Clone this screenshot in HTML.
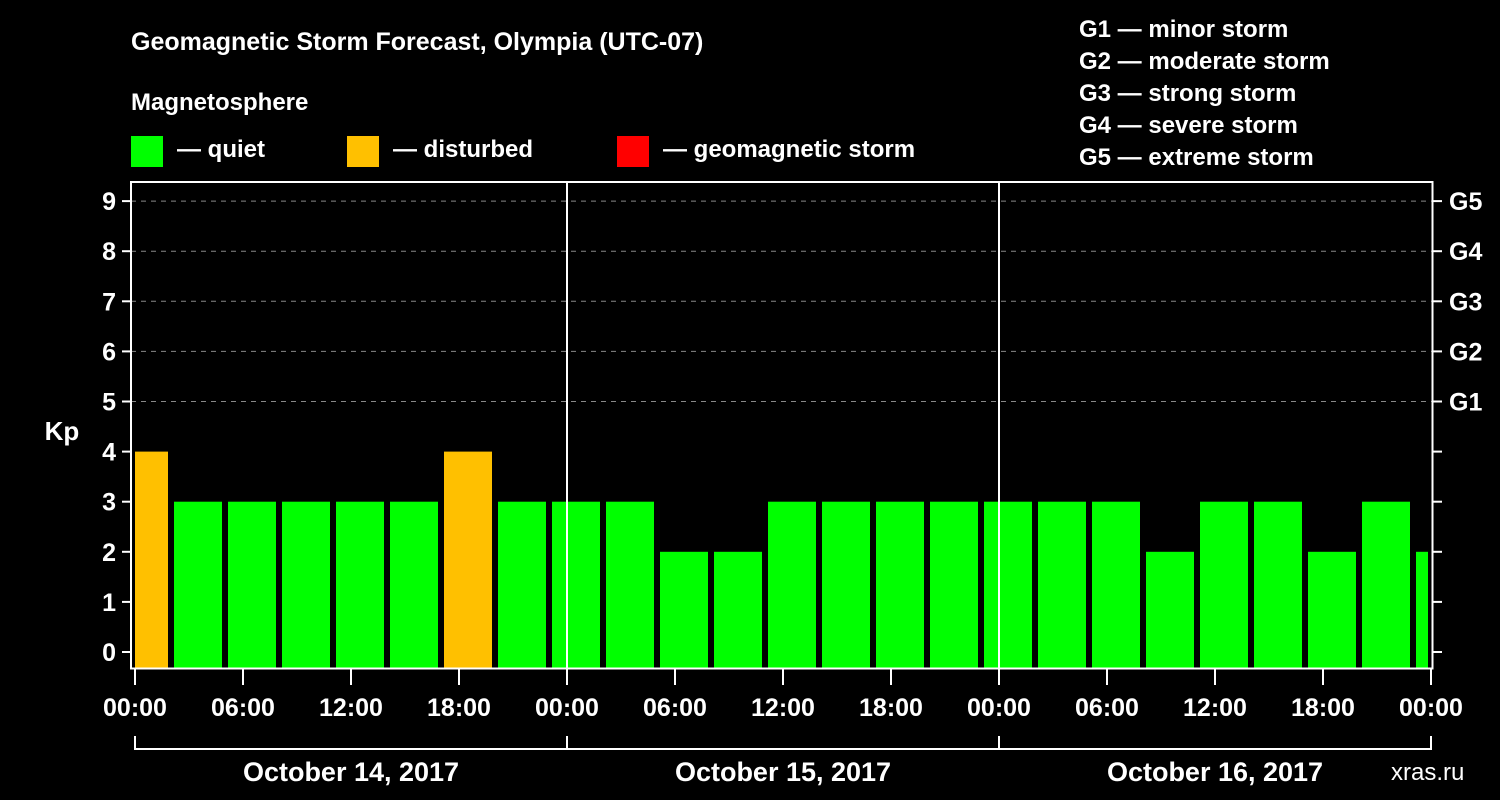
<!DOCTYPE html>
<html><head><meta charset="utf-8"><style>
html,body{margin:0;padding:0;background:#000;}
svg{display:block;font-family:"Liberation Sans",Arial,sans-serif;font-weight:bold;}
</style></head><body>
<svg id="chart" width="1500" height="800" viewBox="0 0 1500 800">
<rect width="1500" height="800" fill="#000"/>
<text x="131" y="50" fill="#fff" font-size="25">Geomagnetic Storm Forecast, Olympia (UTC-07)</text>
<text x="131" y="110" fill="#fff" font-size="24">Magnetosphere</text>
<g><rect x="131" y="136" width="32" height="31" fill="#00ff00"/><text x="177" y="157" fill="#fff" font-size="24">— quiet</text></g>
<g><rect x="347" y="136" width="32" height="31" fill="#ffc000"/><text x="393" y="157" fill="#fff" font-size="24">— disturbed</text></g>
<g><rect x="617" y="136" width="32" height="31" fill="#ff0000"/><text x="663" y="157" fill="#fff" font-size="24">— geomagnetic storm</text></g>
<g fill="#fff" font-size="24">
<text x="1079" y="37">G1 — minor storm</text>
<text x="1079" y="69">G2 — moderate storm</text>
<text x="1079" y="101">G3 — strong storm</text>
<text x="1079" y="133">G4 — severe storm</text>
<text x="1079" y="165">G5 — extreme storm</text>
</g>
<text x="62" y="440" fill="#fff" font-size="26" text-anchor="middle">Kp</text>
<text x="1391" y="780" fill="#fff" font-size="24" font-weight="normal">xras.ru</text>
<g id="plot"></g>
</svg>
<script>
const kpValues=[4,3,3,3,3,3,4,3,3,3,2,2,3,3,3,3,3,3,3,2,3,3,2,3,2];
const barStartHours=[-1,2,5,8,11,14,17,20,23,26,29,32,35,38,41,44,47,50,53,56,59,62,65,68,71];
const yTicks=[0,1,2,3,4,5,6,7,8,9];
const gLabels=["G1","G2","G3","G4","G5"];
const dayLabels=["October 14, 2017","October 15, 2017","October 16, 2017"];
const hourLabels=["00:00","06:00","12:00","18:00"];
const NS="http://www.w3.org/2000/svg";
const plot=document.getElementById('plot');
const X0=135,PXH=18,Y0=652,PXK=50.1;
const xs=h=>X0+h*PXH, ys=k=>Y0-k*PXK;
const FL=131,FR=1432.5,FT=182,FB=668.5;
function mk(t,a,parent){const e=document.createElementNS(NS,t);for(const k in a)e.setAttribute(k,a[k]);(parent||plot).appendChild(e);return e;}
// grid
for(let k=5;k<=9;k++){const l=mk('line',{x1:FL,x2:FR,y1:ys(k),y2:ys(k),stroke:'#888','stroke-dasharray':'5,5','stroke-width':1});

}
// bars
kpValues.forEach((v,i)=>{let x1=Math.max(xs(barStartHours[i])+3,X0);let x2=Math.min(xs(barStartHours[i]+3)-3,xs(72)-3);
const r=mk('rect',{x:x1,y:ys(v),width:x2-x1,height:FB-1-ys(v),fill:v>=5?'#ff0000':(v>=4?'#ffc000':'#00ff00')});

});
// frame
const fr=mk('rect',{x:FL,y:FT,width:FR-FL,height:FB-FT,fill:'none',stroke:'#fff','stroke-width':2});


for(let d=1;d<3;d++){const l=mk('line',{x1:xs(24*d),x2:xs(24*d),y1:FT,y2:FB,stroke:'#fff','stroke-width':2});

}
// y ticks
yTicks.forEach(k=>{mk('line',{x1:122,x2:FL,y1:ys(k),y2:ys(k),stroke:'#fff','stroke-width':2});
mk('line',{x1:FR,x2:1442,y1:ys(k),y2:ys(k),stroke:'#fff','stroke-width':2});
const t=mk('text',{x:116,y:ys(k)+9,fill:'#fff','font-size':25,'text-anchor':'end'});t.textContent=k;

});
gLabels.forEach((g,i)=>{const t=mk('text',{x:1449,y:ys(5+i)+9,fill:'#fff','font-size':25});t.textContent=g;

});
// x ticks
for(let h=0;h<=72;h+=6){const x=xs(h);mk('line',{x1:x,x2:x,y1:FB,y2:685,stroke:'#fff','stroke-width':2});
const t=mk('text',{x:x,y:716,fill:'#fff','font-size':25,'text-anchor':'middle'});t.textContent=hourLabels[(h/6)%4];

}
// date brackets
dayLabels.forEach((d,i)=>{const a=xs(24*i),b=xs(24*(i+1));
mk('path',{d:`M${a},736V749H${b}V736`,fill:'none',stroke:'#fff','stroke-width':2});
const t=mk('text',{x:(a+b)/2,y:781,fill:'#fff','font-size':27,'text-anchor':'middle'});t.textContent=d;

});
</script>
</body></html>
